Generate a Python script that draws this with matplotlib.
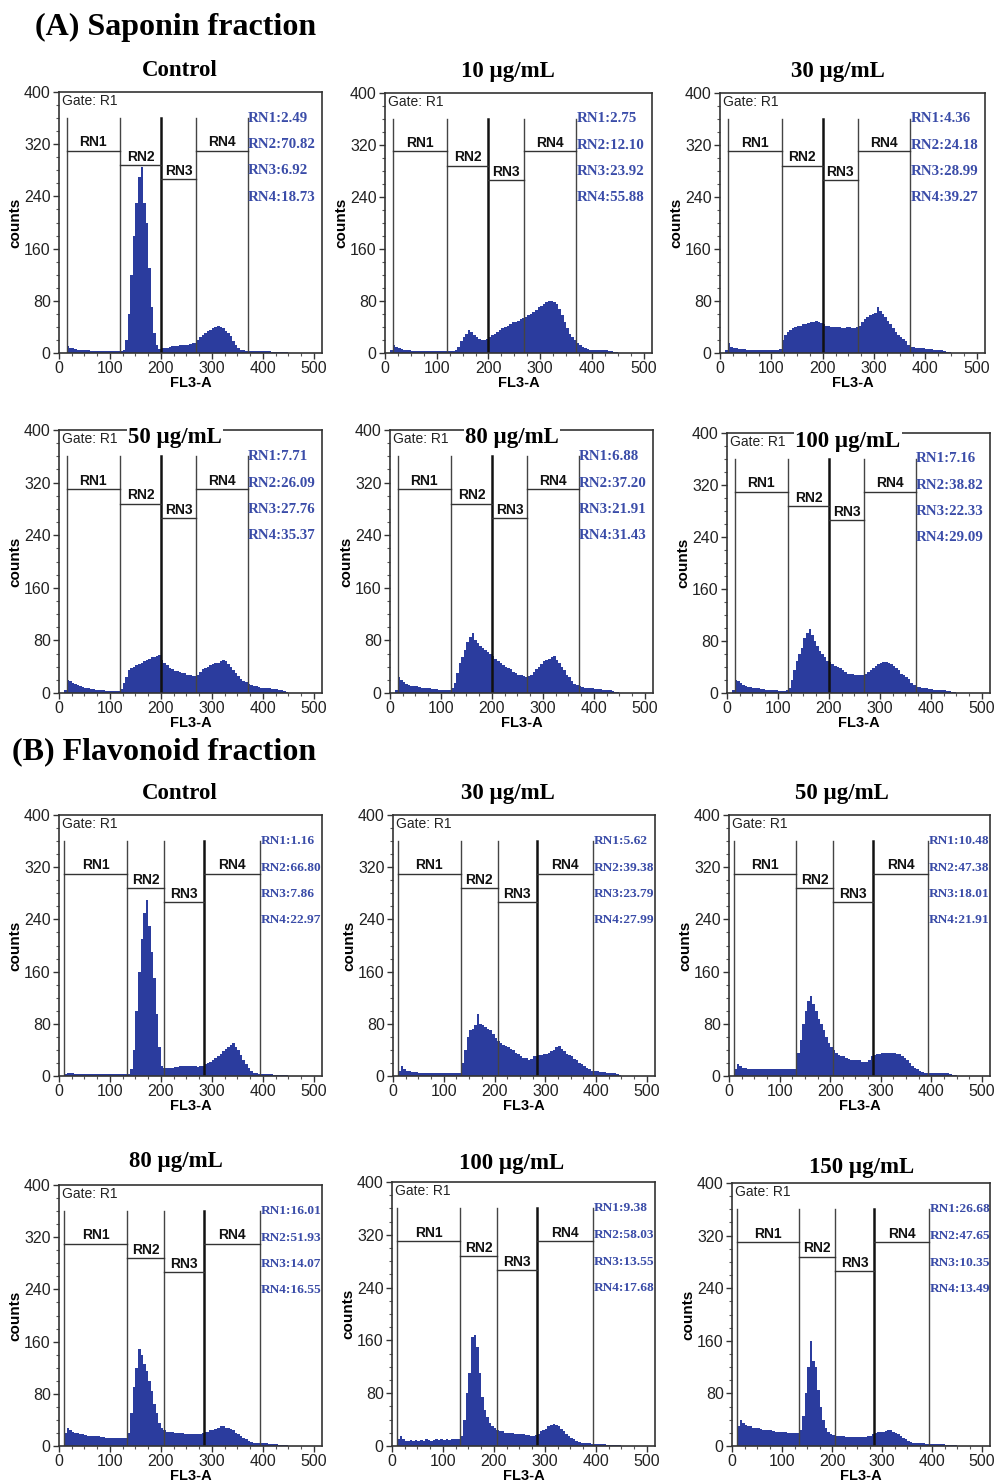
import numpy as np
import matplotlib
matplotlib.use("Agg")
import matplotlib.pyplot as plt
from matplotlib.ticker import MultipleLocator

# bin edges of the FL3-A histograms (5 units wide, 10..450)
edges = np.arange(10, 455, 5)

# ---- (A) Saponin fraction, counts per bin ----
sap_control = [0, 10, 8, 7, 6, 5, 5, 4,
               4, 4, 3, 3, 3, 3, 3, 3, 3, 3,
               3, 3, 3, 3, 3, 5, 20, 60, 120, 180,
               230, 270, 285, 230, 200, 130, 70, 30, 12, 6,
               7, 8, 8, 9, 10, 10, 11, 12, 12, 13,
               13, 14, 15, 16, 20, 24, 28, 30, 33, 36,
               38, 40, 42, 40, 38, 34, 30, 26, 18, 12,
               7, 5, 4, 3, 3, 3, 3, 3, 3, 3,
               3, 3, 3, 2, 2, 2, 2, 2, 2, 1]
sap_10 = [5, 12, 9, 7, 6, 5, 4, 4,
          3, 3, 3, 3, 3, 3, 3, 3, 3, 3,
          3, 3, 3, 3, 3, 3, 3, 5, 10, 18,
          25, 30, 35, 32, 28, 25, 22, 20, 20, 22,
          25, 28, 30, 32, 35, 38, 40, 42, 45, 47,
          48, 50, 52, 54, 56, 58, 60, 63, 66, 70,
          73, 76, 78, 80, 80, 78, 75, 68, 58, 48,
          38, 30, 24, 20, 15, 12, 10, 8, 6, 5,
          5, 5, 5, 5, 4, 4, 3, 3, 2, 1]
sap_30 = [5, 15, 10, 8, 7, 6, 6, 6,
          5, 5, 5, 5, 5, 5, 5, 5, 5, 5,
          5, 5, 5, 6, 20, 28, 32, 36, 38, 40,
          42, 42, 44, 45, 46, 47, 48, 50, 48, 46,
          44, 42, 42, 40, 40, 40, 40, 38, 38, 40,
          40, 38, 38, 40, 42, 48, 52, 55, 58, 60,
          62, 70, 64, 60, 55, 50, 45, 38, 32, 28,
          25, 22, 18, 13, 10, 9, 8, 8, 7, 7,
          6, 6, 6, 5, 5, 5, 4, 3, 2, 1]
sap_50 = [5, 20, 18, 15, 13, 12, 10, 9,
          8, 7, 6, 6, 5, 5, 4, 4, 3, 3,
          3, 3, 3, 3, 6, 15, 25, 35, 38, 40,
          42, 44, 46, 48, 50, 52, 54, 55, 57, 58,
          50, 46, 42, 38, 36, 34, 33, 32, 30, 30,
          28, 27, 26, 26, 28, 32, 36, 38, 40, 42,
          44, 45, 46, 48, 50, 48, 44, 40, 35, 30,
          26, 22, 18, 16, 14, 12, 11, 10, 9, 8,
          8, 7, 7, 6, 6, 6, 5, 5, 3, 1]
sap_80 = [5, 25, 20, 16, 14, 12, 11, 10,
          10, 9, 8, 8, 7, 7, 6, 6, 6, 5,
          5, 5, 5, 5, 8, 15, 30, 45, 55, 65,
          78, 85, 92, 80, 76, 72, 68, 65, 62, 60,
          56, 52, 48, 45, 42, 40, 38, 36, 32, 30,
          28, 27, 26, 25, 26, 28, 32, 36, 40, 44,
          48, 50, 52, 54, 56, 50, 45, 40, 35, 28,
          24, 18, 14, 12, 10, 9, 8, 8, 7, 7,
          6, 6, 6, 5, 5, 5, 4, 3, 2, 1]
sap_100 = [5, 20, 18, 15, 12, 11, 10, 9,
           8, 7, 7, 6, 6, 5, 5, 5, 4, 4,
           3, 3, 3, 4, 8, 20, 35, 50, 60, 70,
           85, 92, 98, 90, 80, 72, 65, 60, 55, 50,
           48, 45, 42, 40, 38, 35, 33, 30, 30, 29,
           28, 28, 28, 28, 30, 32, 35, 38, 42, 44,
           46, 48, 48, 46, 45, 42, 38, 35, 30, 28,
           25, 22, 16, 12, 10, 9, 8, 7, 7, 6,
           6, 5, 5, 4, 4, 4, 3, 3, 2, 1]

# ---- (B) Flavonoid fraction, counts per bin ----
flav_control = [3, 5, 4, 4, 3, 3, 3, 3,
                3, 3, 3, 3, 3, 3, 3, 3, 3, 3,
                3, 3, 3, 3, 3, 3, 3, 3, 10, 40,
                100, 160, 210, 250, 270, 230, 190, 150, 95, 45,
                15, 12, 12, 13, 13, 14, 14, 15, 15, 15,
                15, 16, 16, 15, 14, 15, 16, 18, 20, 22,
                25, 28, 30, 34, 38, 42, 45, 48, 50, 45,
                40, 32, 25, 18, 12, 8, 5, 4, 3, 3,
                3, 3, 3, 3, 2, 2, 2, 2, 1, 1]
flav_30 = [8, 15, 10, 8, 7, 6, 6, 6,
           5, 5, 5, 5, 5, 5, 5, 5, 5, 5,
           5, 5, 5, 5, 5, 5, 5, 20, 40, 60,
           70, 72, 78, 95, 80, 78, 75, 72, 70, 65,
           58, 54, 50, 48, 46, 44, 42, 40, 36, 34,
           30, 28, 27, 25, 26, 30, 30, 32, 32, 34,
           34, 36, 38, 40, 44, 46, 42, 38, 34, 32,
           30, 26, 24, 20, 18, 15, 12, 10, 8, 7,
           7, 6, 6, 6, 5, 5, 5, 4, 3, 1]
flav_50 = [10, 18, 15, 12, 12, 11, 10, 10,
           10, 10, 10, 10, 10, 10, 10, 10, 10, 10,
           10, 10, 10, 10, 10, 10, 10, 35, 55, 80,
           100, 115, 122, 110, 100, 88, 80, 70, 60, 50,
           45, 40, 35, 32, 30, 30, 28, 26, 25, 25,
           24, 24, 22, 22, 22, 25, 30, 32, 33, 34,
           35, 35, 36, 36, 35, 35, 34, 34, 30, 28,
           25, 20, 16, 12, 10, 8, 6, 5, 5, 5,
           5, 5, 5, 4, 4, 4, 4, 3, 2, 1]
flav_80 = [20, 28, 25, 22, 20, 20, 18, 18,
           17, 16, 16, 15, 15, 15, 14, 14, 13, 13,
           13, 12, 12, 12, 12, 12, 12, 20, 50, 90,
           120, 148, 140, 125, 115, 100, 85, 65, 50, 35,
           28, 25, 22, 22, 21, 20, 20, 20, 20, 19,
           19, 18, 18, 18, 18, 18, 20, 22, 22, 24,
           25, 26, 28, 30, 30, 28, 28, 26, 24, 20,
           18, 15, 12, 10, 8, 6, 5, 5, 4, 4,
           4, 4, 3, 3, 3, 3, 2, 2, 1, 1]
flav_100 = [10, 15, 10, 8, 8, 9, 8, 9,
            8, 9, 8, 10, 9, 8, 9, 10, 9, 10,
            9, 10, 9, 10, 10, 10, 10, 15, 40, 80,
            110, 165, 168, 150, 110, 75, 55, 44, 35, 30,
            28, 25, 22, 22, 20, 20, 20, 20, 18, 18,
            18, 18, 16, 16, 15, 15, 16, 18, 22, 24,
            26, 30, 32, 34, 32, 30, 26, 22, 18, 15,
            12, 10, 8, 6, 5, 4, 4, 4, 3, 3,
            3, 3, 3, 3, 2, 2, 2, 2, 1, 1]
flav_150 = [30, 40, 35, 32, 30, 30, 28, 28,
            27, 26, 25, 25, 24, 24, 23, 22, 22, 22,
            22, 21, 20, 20, 20, 20, 20, 25, 45, 80,
            120, 160, 130, 120, 85, 60, 40, 28, 22, 18,
            16, 15, 15, 15, 15, 14, 14, 14, 14, 14,
            14, 14, 14, 14, 15, 15, 18, 20, 22, 22,
            22, 23, 24, 24, 22, 20, 18, 15, 12, 10,
            8, 6, 5, 5, 4, 4, 4, 3, 3, 3,
            3, 3, 3, 3, 3, 2, 2, 2, 1, 1]

# marker gates (RN1..RN4 boundaries) and the height of each marker bar
sap_gates = [15, 120, 200, 269, 370]
flav_gates = [10, 133, 206, 284, 394]
gate_levels = [310, 288, 266, 310]

sap_titles = ["Control", "10 \u00b5g/mL", "30 \u00b5g/mL",
              "50 \u00b5g/mL", "80 \u00b5g/mL", "100 \u00b5g/mL"]
flav_titles = ["Control", "30 \u00b5g/mL", "50 \u00b5g/mL",
               "80 \u00b5g/mL", "100 \u00b5g/mL", "150 \u00b5g/mL"]

sap_stats = [[2.49, 70.82, 6.92, 18.73],
             [2.75, 12.10, 23.92, 55.88],
             [4.36, 24.18, 28.99, 39.27],
             [7.71, 26.09, 27.76, 35.37],
             [6.88, 37.20, 21.91, 31.43],
             [7.16, 38.82, 22.33, 29.09]]
flav_stats = [[1.16, 66.80, 7.86, 22.97],
              [5.62, 39.38, 23.79, 27.99],
              [10.48, 47.38, 18.01, 21.91],
              [16.01, 51.93, 14.07, 16.55],
              [9.38, 58.03, 13.55, 17.68],
              [26.68, 47.65, 10.35, 13.49]]

sap_counts = [sap_control, sap_10, sap_30, sap_50, sap_80, sap_100]
flav_counts = [flav_control, flav_30, flav_50, flav_80, flav_100, flav_150]

# layout in pixels: axes box (left, top, right, bottom) and title centre
sap_boxes = [(59, 92, 322, 353), (385, 93, 652, 353), (720, 93, 985, 353),
             (59, 430, 322, 693), (390, 430, 653, 693), (727, 433, 990, 693)]
flav_boxes = [(59, 815, 322, 1076), (393, 815, 655, 1076), (729, 815, 990, 1076),
              (59, 1185, 322, 1446), (392, 1182, 655, 1446), (732, 1183, 990, 1446)]
sap_tpos = [(180, 70), (508, 71), (838, 71), (175, 438), (512, 438), (848, 441)]
flav_tpos = [(180, 794), (508, 794), (842, 794), (176, 1162), (512, 1163), (862, 1167)]

W, H = 1000, 1484
BLUE = "#2b3c9e"
STAT = "#3a4ca8"
SANS = "Liberation Sans"
SERIF = "Liberation Serif"

fig = plt.figure(figsize=(W / 100, H / 100), dpi=100)


def px_axes(box):
    l, t, r, b = box
    return fig.add_axes([l / W, 1 - b / H, (r - l) / W, (b - t) / H])


def draw_panel(ax, counts, gates, stats, heavy, stat_size):
    ax.stairs(counts, edges, fill=True, color=BLUE, lw=0)
    for i, g in enumerate(gates):
        lw = 1.8 if i == heavy else 1.0
        c = "#111111" if i == heavy else "#444444"
        ax.plot([g, g], [0, 360], color=c, lw=lw, zorder=3)
    for i in range(4):
        x0, x1 = gates[i], gates[i + 1]
        ax.plot([x0, x1], [gate_levels[i]] * 2, color="#333333", lw=1.0, zorder=3)
        ax.text((x0 + x1) / 2, gate_levels[i] + 2, "RN%d" % (i + 1), ha="center",
                va="bottom", fontsize=10, fontweight="bold", family=SANS, color="#111111")
    ys = [360, 319, 279, 239]
    for i, v in enumerate(stats):
        ax.text(gates[-1] + 1, ys[i], "RN%d:%.2f" % (i + 1, v), ha="left", va="center",
                fontsize=stat_size, fontweight="bold", family=SERIF, color=STAT)
    ax.text(6, 386, "Gate: R1", fontsize=10, family=SANS, color="#222222", va="center")
    ax.set_xlim(0, 516)
    ax.set_ylim(0, 400)
    ax.set_xticks([0, 100, 200, 300, 400, 500])
    ax.set_yticks([0, 80, 160, 240, 320, 400])
    ax.xaxis.set_minor_locator(MultipleLocator(25))
    ax.yaxis.set_minor_locator(MultipleLocator(20))
    ax.tick_params(which="major", direction="out", length=4, width=1, labelsize=11.5,
                   colors="#333333", labelcolor="#222222", pad=2)
    ax.tick_params(which="minor", direction="out", length=2, width=0.8, colors="#555555")
    for lab in ax.get_xticklabels() + ax.get_yticklabels():
        lab.set_family(SANS)
    for s in ax.spines.values():
        s.set_color("#333333")
        s.set_linewidth(1.2)
        s.set_zorder(4)
    ax.set_xlabel("FL3-A", fontsize=10.5, fontweight="bold", family=SANS, labelpad=0)
    ax.set_ylabel("counts", fontsize=11, fontweight="bold", family=SANS, labelpad=1)


for k in range(6):
    ax = px_axes(sap_boxes[k])
    draw_panel(ax, sap_counts[k], sap_gates, sap_stats[k], 2, 10.8)
    x, y = sap_tpos[k]
    box = dict(facecolor="white", edgecolor="none", pad=1) if k >= 3 else None
    fig.text(x / W, 1 - y / H, sap_titles[k], ha="center", va="center", fontsize=16.5,
             fontweight="bold", family=SERIF, bbox=box, zorder=5)

for k in range(6):
    ax = px_axes(flav_boxes[k])
    draw_panel(ax, flav_counts[k], flav_gates, flav_stats[k], 3, 9.6)
    x, y = flav_tpos[k]
    box = dict(facecolor="white", edgecolor="none", pad=1) if k == 5 else None
    fig.text(x / W, 1 - y / H, flav_titles[k], ha="center", va="center", fontsize=16.5,
             fontweight="bold", family=SERIF, bbox=box, zorder=5)

fig.text(35 / W, 1 - 27 / H, "(A) Saponin fraction", ha="left", va="center",
         fontsize=23, fontweight="bold", family=SERIF)
fig.text(12 / W, 1 - 752 / H, "(B) Flavonoid fraction", ha="left", va="center",
         fontsize=23, fontweight="bold", family=SERIF)

fig.savefig("out.png", dpi=100)
